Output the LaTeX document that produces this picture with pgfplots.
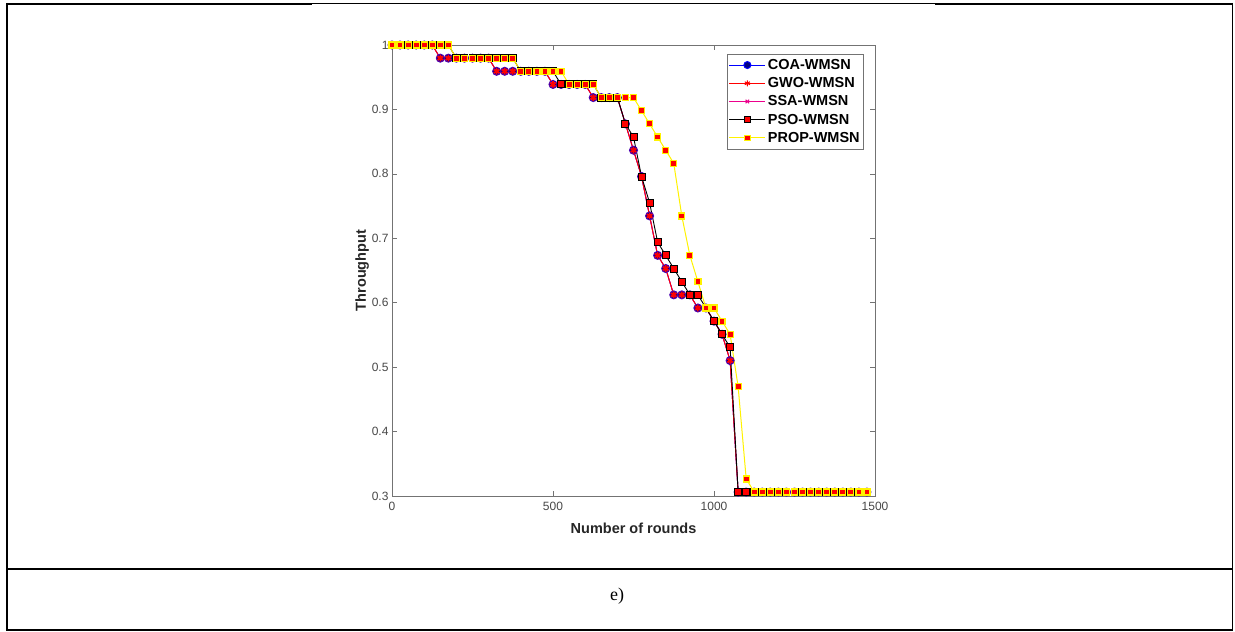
\documentclass[border=0pt]{standalone}
\usepackage{fontspec}
\setmainfont{Liberation Sans}
\newfontfamily\tnr{Liberation Serif}
\usepackage{pgfplots}
\usepackage{pgfplotstable}
\pgfplotsset{compat=1.18}
\definecolor{navy}{rgb}{0,0,0.5}
\definecolor{axgray}{gray}{0.45}

\pgfplotstableread{
x coa pso prop
0 1 1 1
25 1 1 1
50 1 1 1
75 1 1 1
100 1 1 1
125 1 1 1
150 0.9796 1 1
175 0.9796 1 1
200 0.9796 0.9796 0.9796
225 0.9796 0.9796 0.9796
250 0.9796 0.9796 0.9796
275 0.9796 0.9796 0.9796
300 0.9796 0.9796 0.9796
325 0.9592 0.9796 0.9796
350 0.9592 0.9796 0.9796
375 0.9592 0.9796 0.9796
400 0.9592 0.9592 0.9592
425 0.9592 0.9592 0.9592
450 0.9592 0.9592 0.9592
475 0.9592 0.9592 0.9592
500 0.9388 0.9592 0.9592
525 0.9388 0.9388 0.9592
550 0.9388 0.9388 0.9388
575 0.9388 0.9388 0.9388
600 0.9388 0.9388 0.9388
625 0.9184 0.9388 0.9388
650 0.9184 0.9184 0.9184
675 0.9184 0.9184 0.9184
700 0.9184 0.9184 0.9184
725 0.8776 0.8776 0.9184
750 0.8367 0.8571 0.9184
775 0.7959 0.7959 0.8980
800 0.7347 0.7551 0.8776
825 0.6735 0.6939 0.8571
850 0.6531 0.6735 0.8367
875 0.6122 0.6531 0.8163
900 0.6122 0.6327 0.7347
925 0.6122 0.6122 0.6735
950 0.5918 0.6122 0.6327
975 0.5918 0.5918 0.5918
1000 0.5714 0.5714 0.5918
1025 0.5510 0.5510 0.5714
1050 0.5102 0.5306 0.5510
1075 0.3061 0.3061 0.4694
1100 0.3061 0.3061 0.3265
1125 0.3061 0.3061 0.3061
1150 0.3061 0.3061 0.3061
1175 0.3061 0.3061 0.3061
1200 0.3061 0.3061 0.3061
1225 0.3061 0.3061 0.3061
1250 0.3061 0.3061 0.3061
1275 0.3061 0.3061 0.3061
1300 0.3061 0.3061 0.3061
1325 0.3061 0.3061 0.3061
1350 0.3061 0.3061 0.3061
1375 0.3061 0.3061 0.3061
1400 0.3061 0.3061 0.3061
1425 0.3061 0.3061 0.3061
1450 0.3061 0.3061 0.3061
1475 0.3061 0.3061 0.3061
}\data

\begin{document}
\begin{tikzpicture}[x=1pt,y=1pt]
\path[use as bounding box] (0,0) rectangle (1235,632);
% table frame
\draw[line width=2pt] (6,628) -- (312,628);
\draw[line width=1pt] (312,628) -- (935,628);
\draw[line width=2pt] (935,628) -- (1233,628);
\draw[line width=2pt] (7,629) -- (7,1.5);
\draw[line width=1.2pt] (1232.5,629) -- (1232.5,1.5);
\draw[line width=2pt] (6,62.5) -- (1233,62.5);
\draw[line width=1.5pt] (6,2) -- (1233,2);
\node[font=\tnr\fontsize{18}{20}\selectfont] at (617,36) {e)};

\begin{axis}[
  at={(392pt,136pt)}, anchor=south west,
  scale only axis, width=483pt, height=451pt,
  xmin=0, xmax=1500, ymin=0.3, ymax=1,
  clip=false,
  axis line style={axgray, line width=0.7pt},
  tick style={axgray, line width=0.7pt},
  major tick length=5pt,
  tick align=inside,
  xtick={0,500,1000,1500}, xticklabels={0,500,1000,1500},
  ytick={0.3,0.4,0.5,0.6,0.7,0.8,0.9,1},
  yticklabels={0.3,0.4,0.5,0.6,0.7,0.8,0.9,1},
  ticklabel style={font=\fontsize{12}{14}\selectfont, text=black!72},
  xticklabel style={yshift=-2.5pt},
  xlabel={Number of rounds}, ylabel={Throughput},
  label style={font=\fontsize{14.5}{17}\selectfont\bfseries, text=black!85},
  xlabel style={at={(axis description cs:0.5,-0.071)}, anchor=center},
  ylabel style={at={(axis description cs:-0.062,0.5)}, anchor=center},
  legend image code/.code={\draw[mark repeat=2,mark phase=2,#1] plot coordinates {(0pt,0pt) (18pt,0pt) (36pt,0pt)};},
  legend style={at={(0.977,0.980)}, anchor=north east, draw=axgray,
    font=\fontsize{14.5}{16}\selectfont\bfseries, cells={anchor=west},
    inner xsep=2pt, inner ysep=3pt, row sep=2.6pt},
]
\addlegendimage{draw=blue, line width=1pt, mark=*, mark size=3.5pt, mark options={solid, draw=blue, fill=navy}}
\addlegendentry{COA-WMSN}
\addlegendimage{draw=red, line width=1pt, mark=asterisk, mark size=3pt, mark options={solid, draw=red, line width=1pt}}
\addlegendentry{GWO-WMSN}
\addlegendimage{draw=magenta, line width=1pt, mark=x, mark size=2.5pt, mark options={solid, draw=magenta, line width=1pt}}
\addlegendentry{SSA-WMSN}
\addlegendimage{draw=black, line width=1pt, mark=square*, mark size=3pt, mark options={solid, draw=black, fill=red}}
\addlegendentry{PSO-WMSN}
\addlegendimage{draw=yellow, line width=1pt, mark=square*, mark size=2.8pt, mark options={solid, draw=yellow, fill=red}}
\addlegendentry{PROP-WMSN}

\addplot[forget plot, blue, line width=0.9pt, mark=*, mark size=4pt, mark options={draw=blue!70!red, fill=navy, line width=1pt}] table[x=x, y=coa] {\data};
\addplot[forget plot, magenta, line width=0.9pt, mark=x, mark size=3pt, mark options={line width=1pt}] table[x=x, y=coa] {\data};
\addplot[forget plot, red, line width=0.9pt, mark=asterisk, mark size=3.3pt, mark options={line width=1.6pt}] table[x=x, y=coa] {\data};
\addplot[forget plot, black, line width=0.9pt, mark=square*, mark size=3.5pt, mark options={draw=black, fill=red, line width=1pt}] table[x=x, y=pso] {\data};
\addplot[forget plot, yellow, line width=1pt, mark=square*, mark size=3pt, mark options={draw=yellow, fill=red, line width=1.2pt}] table[x=x, y=prop] {\data};
\end{axis}
\end{tikzpicture}
\end{document}
